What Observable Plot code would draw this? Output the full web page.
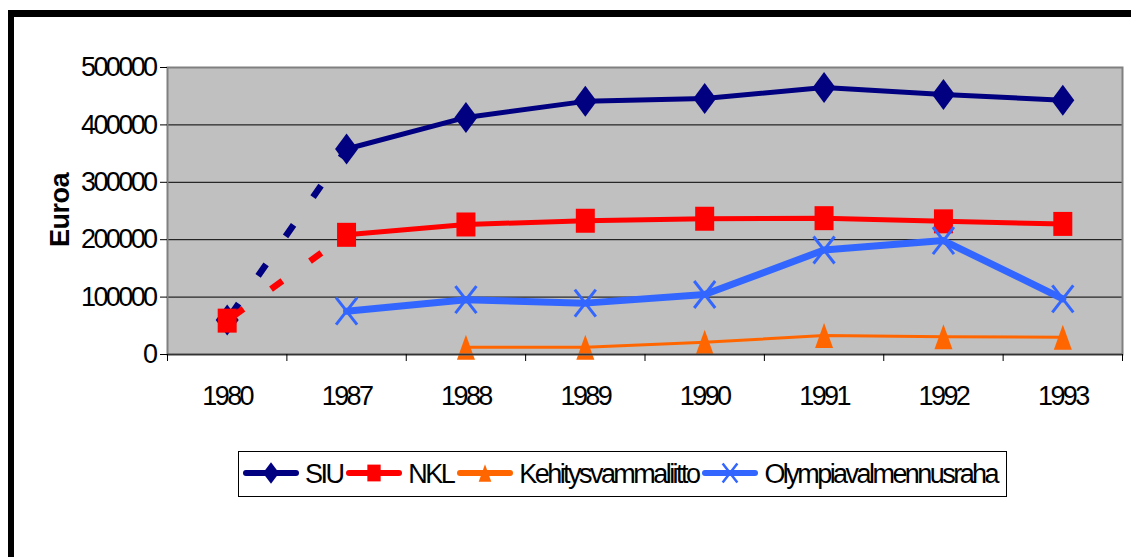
<!DOCTYPE html>
<html><head><meta charset="utf-8">
<script src="https://cdn.jsdelivr.net/npm/d3@7"></script>
<script src="https://cdn.jsdelivr.net/npm/@observablehq/plot@0.6"></script>
<style>
body{margin:0;background:#fff;width:1131px;height:557px;overflow:hidden;position:relative;font-family:"Liberation Sans",Arial,sans-serif;}
#frame{position:absolute;left:8px;top:10px;width:1300px;height:700px;border-top:7px solid #000;border-left:6px solid #000;}
#chart{position:absolute;left:0;top:0;}
#ylabel{position:absolute;left:60px;top:210px;transform:translate(-50%,-50%) rotate(-90deg);font-weight:bold;font-size:27px;letter-spacing:-0.5px;white-space:nowrap;}
#legend{position:absolute;left:238px;top:451px;width:767px;height:44px;border:1px solid #000;background:#fff;display:flex;align-items:center;box-sizing:content-box;}
#legend .item{display:flex;align-items:center;}
#legend svg{display:block;margin-left:3px;margin-right:5px;}
#legend span{font-size:27px;letter-spacing:-2.55px;line-height:44px;}
</style></head>
<body>
<div id="frame"></div>
<div id="chart"></div>
<div id="ylabel">Euroa</div>
<div id="legend"></div>
<script>
const categories = ["1980","1987","1988","1989","1990","1991","1992","1993"];
const yTicks = [0,100000,200000,300000,400000,500000];
const gridValues = [100000,200000,300000,400000];
const seriesNames = ["SIU","NKL","Kehitysvammaliitto","Olympiavalmennusraha"];
const siu = [60000,358000,413000,441000,446000,465000,453000,443000];
const nkl = [59000,208500,226500,233000,236500,237500,232000,227500];
const kehitys = [null,null,12500,12500,21500,33000,31000,30000];
const olympia = [null,75500,95500,89500,104500,182000,198500,97000];

function diamond(hw,hh){return {draw(c,s){const k=Math.sqrt(s/Math.PI)/10;c.moveTo(0,-hh*k);c.lineTo(hw*k,0);c.lineTo(0,hh*k);c.lineTo(-hw*k,0);c.closePath();}};}
function rect(hw,hh){return {draw(c,s){const k=Math.sqrt(s/Math.PI)/10;c.moveTo(-hw*k,-hh*k);c.lineTo(hw*k,-hh*k);c.lineTo(hw*k,hh*k);c.lineTo(-hw*k,hh*k);c.closePath();}};}
function tri(hw,hh){return {draw(c,s){const k=Math.sqrt(s/Math.PI)/10;c.moveTo(0,-hh*k);c.lineTo(hw*k,hh*k);c.lineTo(-hw*k,hh*k);c.closePath();}};}
function cross(hw,hh){return {draw(c,s){const k=Math.sqrt(s/Math.PI)/10;c.moveTo(-hw*k,-hh*k);c.lineTo(hw*k,hh*k);c.moveTo(hw*k,-hh*k);c.lineTo(-hw*k,hh*k);}};}

const styles = [
  {values:siu, color:"#000080", width:5, symbol:diamond(11.5,15.5), filled:true},
  {values:nkl, color:"#FF0000", width:5, symbol:rect(9.5,12), filled:true},
  {values:kehitys, color:"#FF6600", width:3, symbol:tri(9,12.5), filled:true},
  {values:olympia, color:"#3366FF", width:7, symbol:cross(10.5,13.5), filled:false}
];

const marks = [
  Plot.frame({fill:"#C0C0C0"}),
  Plot.ruleY(gridValues, {stroke:"#000", strokeWidth:1})
];
styles.forEach((s,k)=>{
  const rows = s.values.map((v,i)=>({series:seriesNames[k], i, v})).filter(d=>d.v!=null);
  const dashed = rows.filter(d=>d.i<=1);
  const solid = rows.filter(d=>d.i>=1);
  if (dashed.length===2) marks.push(Plot.line(dashed,{x:"i",y:"v",stroke:s.color,strokeWidth:6.5,strokeDasharray:"14,34",strokeDashoffset:-6,strokeLinecap:"butt"}));
  marks.push(Plot.line(solid,{x:"i",y:"v",stroke:s.color,strokeWidth:s.width,strokeLinejoin:"round"}));
  marks.push(Plot.dot(rows,{x:"i",y:"v",r:10,symbol:()=>s.symbol,fill:s.filled?s.color:"none",stroke:s.color,strokeWidth:s.filled?0:3}));
});
const boundaries = d3.range(categories.length+1).map(i=>i-0.5);
marks.push(
  Plot.frame({stroke:"#808080", strokeWidth:2}),
  Plot.ruleY([0],{stroke:"#333",strokeWidth:1.5}),
  Plot.axisY({ticks:yTicks, tickSize:7, tickPadding:5, tickFormat:d3.format("d"), label:null}),
  Plot.axisX({ticks:d3.range(categories.length), tickSize:0, tickPadding:31, tickFormat:i=>categories[i], label:null}),
  Plot.axisX({ticks:boundaries, tickSize:7, tickFormat:()=>"", label:null})
);

const chart = Plot.plot({
  width:1131, height:420,
  marginLeft:167, marginRight:9, marginTop:67, marginBottom:66,
  x:{type:"linear", domain:[-0.5, categories.length-0.5]},
  y:{domain:[0,500000]},
  symbol:{type:"identity"},
  style:{fontFamily:"'Liberation Sans', Arial, sans-serif", fontSize:"27px", letterSpacing:"-2.6px", background:"transparent", color:"#000", overflow:"visible"},
  marks
});
document.getElementById("chart").append(chart);

// legend
const legend = d3.select("#legend");
styles.forEach((s,k)=>{
  const item = legend.append("div").attr("class","item");
  const svg = item.append("svg").attr("width",58).attr("height",44);
  svg.append("line").attr("x1",4).attr("x2",54).attr("y1",21).attr("y2",21)
    .attr("stroke",s.color).attr("stroke-width",6).attr("stroke-linecap","round");
  const sz = Math.PI*Math.pow(7,2);
  svg.append("path").attr("transform","translate(29,21)")
    .attr("d", d3.symbol(s.symbol, sz)())
    .attr("fill", s.filled?s.color:"none").attr("stroke", s.color).attr("stroke-width", s.filled?0:2.5);
  item.append("span").text(seriesNames[k]);
});
</script>
</body></html>
